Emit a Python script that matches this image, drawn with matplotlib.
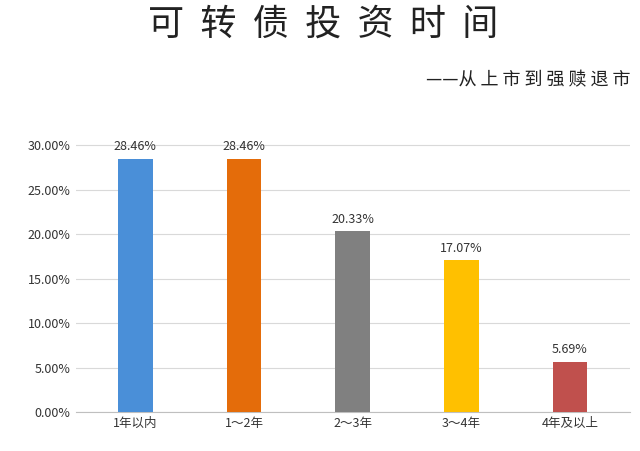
import matplotlib
matplotlib.use("Agg")
import matplotlib.pyplot as plt
from matplotlib.ticker import FuncFormatter

plt.rcParams['font.family'] = ['Noto Sans CJK SC', 'DejaVu Sans']

categories = ["1年以内", "1～2年", "2～3年", "3～4年", "4年及以上"]
values = [28.46, 28.46, 20.33, 17.07, 5.69]
colors = ["#4a8fd8", "#e46c0a", "#808080", "#ffc000", "#c0504d"]

fig = plt.figure(figsize=(6.4, 4.51), dpi=100)
ax = fig.add_axes([0.118, 0.086, 0.866, 0.612])
x = range(len(categories))
ax.bar(x, values, width=0.32, color=colors, zorder=3)
for i, v in zip(x, values):
    ax.text(i, v + 0.6, f"{v:.2f}%", ha="center", va="bottom", fontsize=9, color="#333333")
ax.set_ylim(0, 31)
ax.set_xlim(-0.55, 4.55)
ax.set_yticks([0, 5, 10, 15, 20, 25, 30])
ax.yaxis.set_major_formatter(FuncFormatter(lambda v, p: f"{v:.2f}%"))
ax.set_xticks(list(x))
ax.set_xticklabels(categories, fontsize=9, color="#333333")
ax.tick_params(axis='y', labelsize=9, colors="#333333", length=0)
ax.tick_params(axis='x', length=0)
ax.grid(axis='y', color="#d9d9d9", linewidth=0.8, zorder=0)
for s in ["top", "right", "left"]:
    ax.spines[s].set_visible(False)
ax.spines["bottom"].set_color("#bfbfbf")

fig.text(0.505, 0.945, "可  转  债  投  资  时  间", ha="center", va="center", fontsize=26,
         color="#222222", fontweight="light")
fig.text(0.985, 0.822, "——从 上 市 到 强 赎 退 市", ha="right", va="center", fontsize=13, color="#222222")
fig.savefig("out.png", dpi=100, facecolor="white")
